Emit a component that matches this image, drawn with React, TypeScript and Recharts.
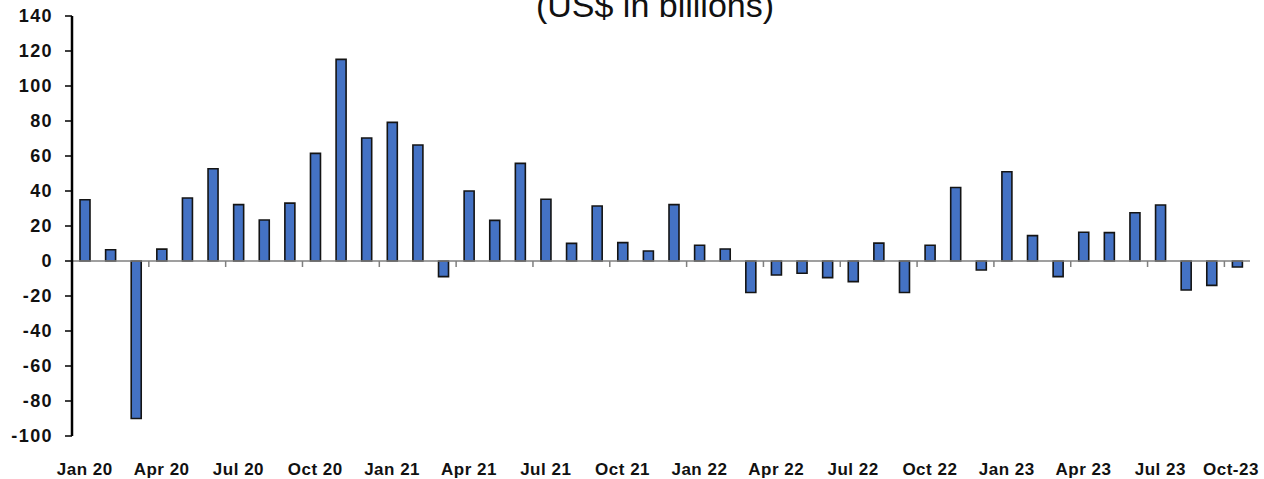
import React from "react";
import { BarChart, Bar, XAxis, YAxis, ReferenceLine } from "recharts";

const months: string[] = [
  "Jan 20", "Feb 20", "Mar 20", "Apr 20", "May 20", "Jun 20", "Jul 20", "Aug 20", "Sep 20", "Oct 20", "Nov 20", "Dec 20",
  "Jan 21", "Feb 21", "Mar 21", "Apr 21", "May 21", "Jun 21", "Jul 21", "Aug 21", "Sep 21", "Oct 21", "Nov 21", "Dec 21",
  "Jan 22", "Feb 22", "Mar 22", "Apr 22", "May 22", "Jun 22", "Jul 22", "Aug 22", "Sep 22", "Oct 22", "Nov 22", "Dec 22",
  "Jan 23", "Feb 23", "Mar 23", "Apr 23", "May 23", "Jun 23", "Jul 23", "Aug 23", "Sep 23", "Oct-23",
];

const values: number[] = [
  35, 6.4, -90, 6.8, 36, 52.7, 32.2, 23.4, 33.1, 61.5, 115.2, 70.3,
  79.2, 66.3, -8.9, 40, 23.2, 55.8, 35.3, 10.1, 31.4, 10.5, 5.7, 32.2,
  9, 6.9, -18, -8, -7, -9.5, -11.8, 10.2, -18, 9, 42, -5.1,
  51, 14.5, -8.9, 16.4, 16.2, 27.6, 32, -16.6, -13.9, -3.4,
];

const yTicks: number[] = [-100, -80, -60, -40, -20, 0, 20, 40, 60, 80, 100, 120, 140];

const title = "(US$ in billions)";

const data = months.map((m, i) => ({ month: m, value: values[i] }));

const FONT = "'Liberation Sans', Arial, Helvetica, sans-serif";

const XTick = (props: any) => {
  const { x, y, payload } = props;
  return (
    <text
      x={Math.min(x, 1231)}
      y={y + 39}
      textAnchor="middle"
      fontFamily={FONT}
      fontWeight="bold"
      fontSize={17}
      letterSpacing={0.5}
      fill="#111"
    >
      {payload.value}
    </text>
  );
};

const ZeroLine = (props: any) => {
  const { x1, y1, x2 } = props;
  const n = months.length;
  const band = (x2 - x1) / n;
  const ticks: number[] = [];
  for (let k = 3; k < n; k += 3) ticks.push(x1 + k * band);
  return (
    <g>
      <line x1={x1} y1={y1} x2={x2} y2={y1} stroke="#7f7f7f" strokeWidth={1.5} />
      {ticks.map((tx, i) => (
        <line key={i} x1={tx} y1={y1} x2={tx} y2={y1 + 6} stroke="#7f7f7f" strokeWidth={1.5} />
      ))}
    </g>
  );
};

export default function App() {
  return (
    <div style={{ position: "absolute", top: 0, left: 0, width: 1264, height: 479 }}>
      <BarChart
        width={1264}
        height={479}
        data={data}
        margin={{ top: 16, right: 14, bottom: 0, left: 0 }}
      >
        <XAxis
          dataKey="month"
          interval={2}
          axisLine={false}
          tickLine={false}
          tickSize={0}
          tickMargin={0}
          height={43}
          tick={<XTick />}
        />
        <YAxis
          domain={[-100, 140]}
          ticks={yTicks}
          interval={0}
          width={72}
          axisLine={{ stroke: "#000", strokeWidth: 2.5 }}
          tickLine={{ stroke: "#000", strokeWidth: 1.5 }}
          tickSize={7}
          tickMargin={12}
          tick={{ fontFamily: FONT, fontWeight: "bold", fontSize: 18, fill: "#111", letterSpacing: 1.4 }}
        />
        <ReferenceLine y={0} shape={ZeroLine} />
        <Bar
          dataKey="value"
          fill="#4472C4"
          stroke="#141414"
          strokeWidth={1.6}
          barSize={10}
          isAnimationActive={false}
        />
      </BarChart>
      <div
        style={{
          position: "absolute",
          top: -12,
          left: 655,
          transform: "translateX(-50%)",
          whiteSpace: "nowrap",
          fontFamily: FONT,
          fontSize: 34,
          lineHeight: "34px",
          color: "#111",
        }}
      >
        {title}
      </div>
    </div>
  );
}
